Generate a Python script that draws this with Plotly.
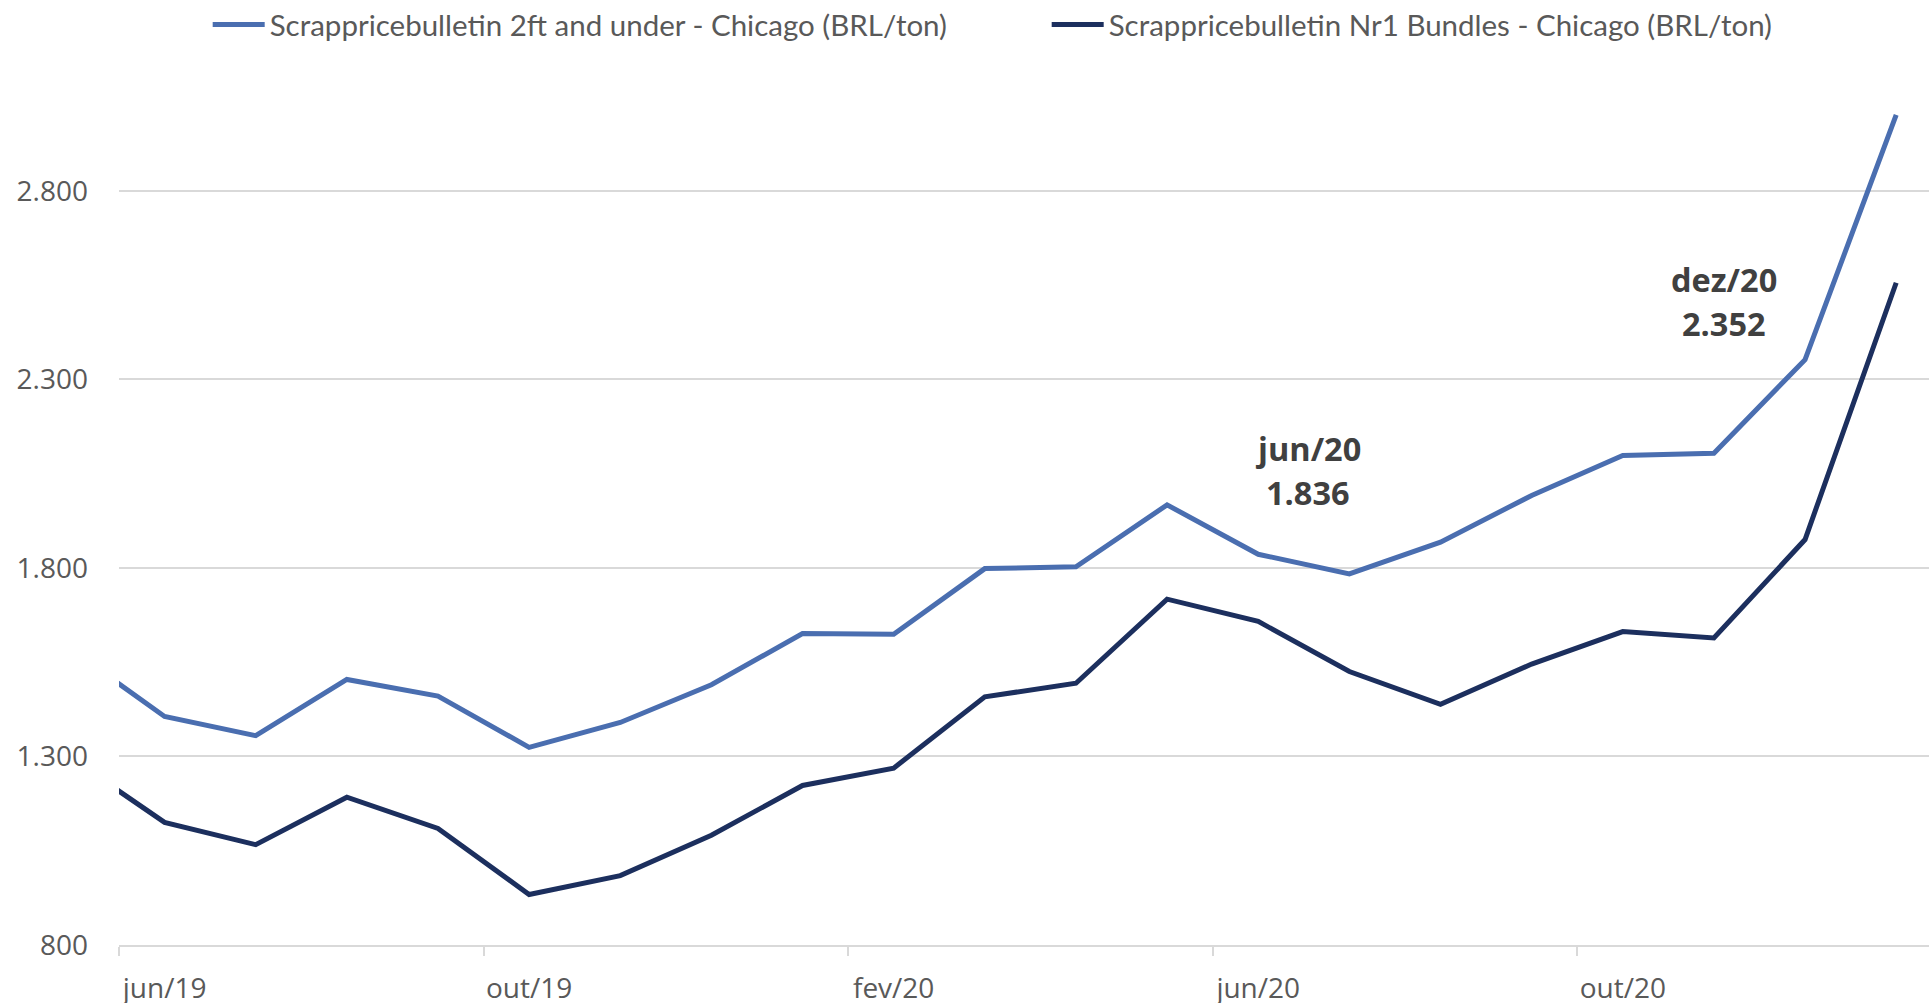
import plotly.graph_objects as go

# monthly series, mai/19 .. jan/21
months = ["mai/19", "jun/19", "jul/19", "ago/19", "set/19", "out/19", "nov/19",
          "dez/19", "jan/20", "fev/20", "mar/20", "abr/20", "mai/20", "jun/20",
          "jul/20", "ago/20", "set/20", "out/20", "nov/20", "dez/20", "jan/21"]

two_ft = [1579, 1406, 1355, 1504, 1460, 1324, 1390, 1490, 1626, 1624, 1798,
          1803, 1967, 1836, 1784, 1868, 1992, 2098, 2104, 2352, 3001]
bundles = [1291, 1125, 1066, 1192, 1109, 934, 984, 1091, 1223, 1269, 1458,
           1494, 1717, 1658, 1525, 1438, 1545, 1631, 1614, 1875, 2556]

series_names = ["Scrappricebulletin 2ft and under - Chicago (BRL/ton)",
                "Scrappricebulletin Nr1 Bundles - Chicago (BRL/ton)"]
label_months = ["jun/19", "out/19", "fev/20", "jun/20", "out/20"]
highlight = ["jun/20", "dez/20"]

x = list(range(len(months)))

fig = go.Figure()
fig.add_trace(go.Scatter(x=x, y=two_ft, name=series_names[0], mode="lines",
                         line=dict(color="#4A6EB0", width=5)))
fig.add_trace(go.Scatter(x=x, y=bundles, name=series_names[1], mode="lines",
                         line=dict(color="#1C2F5E", width=5)))

# data labels on the light series (month on top, value below)
shifts = {"jun/20": (50, 106, 62), "dez/20": (-81, 80, 36)}
for m in highlight:
    i = months.index(m)
    dx, dy_m, dy_v = shifts[m]
    val = f"{two_ft[i]:,.0f}".replace(",", ".")
    for txt, dy in ((m, dy_m), (val, dy_v)):
        fig.add_annotation(x=i, y=two_ft[i], text=f"<b>{txt}</b>", showarrow=False,
                           xshift=dx, yshift=dy,
                           font=dict(family="Open Sans", size=32.5, color="#404040"))

fig.update_layout(
    width=1929, height=1003,
    margin=dict(l=119, r=0, t=113, b=58, autoexpand=False),
    paper_bgcolor="white", plot_bgcolor="white",
    separators=",.",
    showlegend=True,
    legend=dict(orientation="h", x=0.049, xanchor="left", y=1.106, yanchor="middle",
                font=dict(family="Lato", size=29.5, color="#595959"),
                entrywidth=772, itemwidth=52),
)
fig.update_xaxes(
    range=[0.5, 20.36],
    tickvals=[months.index(m) for m in label_months], ticktext=label_months,
    ticks="", showgrid=False, zeroline=False,
    showline=True, linecolor="#D9D9D9", linewidth=1.5,
    tickfont=dict(family="Open Sans", size=28, color="#595959"),
    ticklabelstandoff=18,
    minor=dict(tickmode="linear", tick0=0.5, dtick=4, ticks="outside",
               ticklen=9, tickcolor="#D9D9D9", tickwidth=1.5, showgrid=False),
)
fig.update_yaxes(
    range=[800, 3006], tick0=800, dtick=500, tickformat=",d",
    showgrid=True, gridcolor="#D9D9D9", gridwidth=1.5, zeroline=False,
    ticks="", ticklabelstandoff=30,
    tickfont=dict(family="Open Sans", size=28, color="#595959"),
)

# drop the default page margin so the figure sits at the window's corner
fig.write_html("out.html", config={"displayModeBar": False},
               post_script="document.body.style.margin = '0';")
